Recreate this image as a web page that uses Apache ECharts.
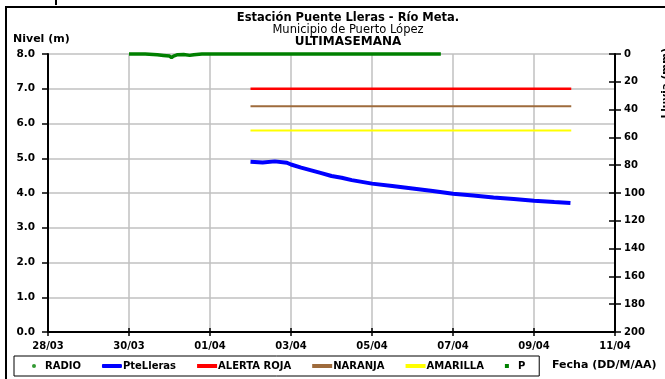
<!DOCTYPE html>
<html>
<head>
<meta charset="utf-8">
<script src="https://cdn.jsdelivr.net/npm/echarts@6/dist/echarts.min.js"></script>
<style>
  html, body { margin: 0; padding: 0; background: #fff; }
  #chart { width: 665px; height: 379px; }
</style>
</head>
<body>
<div id="chart"></div>
<script>
// x values are days counted from 28/03 at 00:00
var tickLabels = ['28/03', '30/03', '01/04', '03/04', '05/04', '07/04', '09/04', '11/04'];

// River level at Puente Lleras (m)
var levelDays = [5.0, 5.3, 5.6, 5.9, 6.0, 6.25, 6.5, 6.75, 7.0, 7.25, 7.5, 7.75, 8.0, 8.5, 9.0, 9.5, 10.0, 10.5, 11.0, 11.5, 12.0, 12.5, 12.9];
var levelValues = [4.90, 4.88, 4.91, 4.87, 4.82, 4.73, 4.65, 4.57, 4.49, 4.44, 4.37, 4.32, 4.27, 4.20, 4.13, 4.06, 3.98, 3.93, 3.87, 3.83, 3.78, 3.74, 3.71];

// Alert thresholds (m), drawn over the same period
var alertDays = [5.0, 12.92];
var alertRed = 7.0;
var alertOrange = 6.5;
var alertYellow = 5.8;

// Precipitation (mm), right axis
var rainDays = [2.0, 2.4, 2.7, 2.85, 3.0, 3.05, 3.1, 3.2, 3.35, 3.5, 3.6, 3.8, 4.2, 5.0, 6.0, 7.0, 8.0, 9.0, 9.7];
var rainValues = [0, 0, 0.5, 1, 1.5, 2.5, 1.5, 0.5, 0.3, 1, 0.5, 0, 0, 0, 0, 0, 0, 0, 0];

function pairs(xs, ys) {
  return xs.map(function (x, i) { return [x, ys[i]]; });
}
function flat(xs, v) {
  return xs.map(function (x) { return [x, v]; });
}

var font = '"DejaVu Sans", Verdana, sans-serif';
var plotBox = { left: 48, right: 50, top: 54, bottom: 47, containLabel: false };
var chart = echarts.init(document.getElementById('chart'));

function titleLine(text, top, size, weight) {
  return { text: text, left: 343, textAlign: 'center', top: top,
    textStyle: { fontSize: size, fontWeight: weight, color: '#000', fontFamily: font } };
}

chart.setOption({
  animation: false,
  backgroundColor: '#ffffff',
  textStyle: { fontFamily: font },
  title: [
    titleLine('Estación Puente Lleras - Río Meta.', 7, 11.5, 'bold'),
    titleLine('Municipio de Puerto López', 19, 11.5, 'normal'),
    titleLine('ULTIMASEMANA', 31, 12, 'bold')
  ],
  // second grid shares the plot box and only carries the inner half of the crossing ticks
  grid: [plotBox, plotBox],
  legend: {
    left: 14, top: 356,
    orient: 'horizontal',
    borderColor: '#000', borderWidth: 1,
    padding: [5, 14, 5, 18],
    itemGap: 21,
    itemWidth: 20, itemHeight: 4,
    textStyle: { fontSize: 10, fontWeight: 'bold', color: '#000', fontFamily: font, padding: [0, 0, 0, -4] },
    data: [
      { name: 'RADIO', icon: 'circle' },
      { name: 'PteLleras', icon: 'roundRect' },
      { name: 'ALERTA ROJA', icon: 'rect' },
      { name: 'NARANJA', icon: 'rect' },
      { name: 'AMARILLA', icon: 'rect' },
      { name: 'P', icon: 'path://M0,0h1v1h-1z' }
    ]
  },
  xAxis: [
    {
      gridIndex: 0, type: 'value', min: 0, max: 14, interval: 2, position: 'bottom',
      axisLine: { show: true, onZero: false, lineStyle: { color: '#000', width: 2 } },
      axisTick: { show: true, inside: false, length: 4, lineStyle: { color: '#000', width: 1.5 } },
      axisLabel: {
        margin: 9, fontSize: 10, fontWeight: 'bold', color: '#000', fontFamily: font,
        formatter: function (v) { return tickLabels[Math.round(v / 2)]; }
      },
      splitLine: { show: true, lineStyle: { color: '#c0c0c0', width: 1.5 } }
    },
    {
      gridIndex: 1, type: 'value', min: 0, max: 14, interval: 2, position: 'bottom',
      axisLine: { show: false, onZero: false },
      axisTick: { show: true, inside: true, length: 4, lineStyle: { color: '#000', width: 1.5 } },
      axisLabel: { show: false },
      splitLine: { show: false }
    }
  ],
  yAxis: [
    {
      gridIndex: 0, type: 'value', min: 0, max: 8, interval: 1, position: 'left',
      axisLine: { show: true, onZero: false, lineStyle: { color: '#000', width: 2 } },
      axisTick: { show: true, inside: false, length: 6, lineStyle: { color: '#000', width: 1.5 } },
      axisLabel: {
        margin: 13, fontSize: 10.5, fontWeight: 'bold', color: '#000', fontFamily: font,
        formatter: function (v) { return v.toFixed(1); }
      },
      splitLine: { show: true, lineStyle: { color: '#c0c0c0', width: 1.5 } }
    },
    {
      gridIndex: 0, type: 'value', min: 0, max: 200, interval: 20, position: 'right', inverse: true,
      axisLine: { show: true, onZero: false, lineStyle: { color: '#000', width: 2 } },
      axisTick: { show: true, inside: false, length: 6, lineStyle: { color: '#000', width: 1.5 } },
      axisLabel: { margin: 9, fontSize: 10, fontWeight: 'bold', color: '#000', fontFamily: font },
      splitLine: { show: false }
    },
    {
      gridIndex: 1, type: 'value', min: 0, max: 200, interval: 20, position: 'right', inverse: true,
      axisLine: { show: false, onZero: false },
      axisTick: { show: true, inside: true, length: 6, lineStyle: { color: '#000', width: 1.5 } },
      axisLabel: { show: false },
      splitLine: { show: false }
    }
  ],
  graphic: [
    { type: 'rect', shape: { x: 6, y: 7, width: 700, height: 400 },
      style: { fill: null, stroke: '#000', lineWidth: 2 }, silent: true, z: 100 },
    { type: 'rect', shape: { x: 55, y: 0, width: 2, height: 5 },
      style: { fill: '#000' }, silent: true },
    { type: 'text', x: 13, y: 34,
      style: { text: 'Nivel (m)', fontSize: 11, fontWeight: 'bold', fill: '#000', fontFamily: font } },
    { type: 'text', x: 552, y: 360,
      style: { text: 'Fecha (DD/M/AA)', fontSize: 11, fontWeight: 'bold', fill: '#000', fontFamily: font } },
    { type: 'text', x: 661, y: 48, rotation: Math.PI / 2,
      style: { text: 'Lluvia (mm)', fontSize: 10.5, fontWeight: 'bold', fill: '#000', fontFamily: font,
               align: 'right', verticalAlign: 'top' } }
  ],
  series: [
    {
      name: 'RADIO', type: 'scatter', xAxisIndex: 0, yAxisIndex: 0,
      symbolSize: 4, itemStyle: { color: '#008000' }, data: []
    },
    {
      name: 'ALERTA ROJA', type: 'line', xAxisIndex: 0, yAxisIndex: 0,
      showSymbol: false, symbol: 'none', z: 3,
      lineStyle: { color: '#ff0000', width: 2.5 }, itemStyle: { color: '#ff0000' },
      data: flat(alertDays, alertRed)
    },
    {
      name: 'NARANJA', type: 'line', xAxisIndex: 0, yAxisIndex: 0,
      showSymbol: false, symbol: 'none', z: 3,
      lineStyle: { color: '#9e6b3c', width: 2 }, itemStyle: { color: '#9e6b3c' },
      data: flat(alertDays, alertOrange)
    },
    {
      name: 'AMARILLA', type: 'line', xAxisIndex: 0, yAxisIndex: 0,
      showSymbol: false, symbol: 'none', z: 3,
      lineStyle: { color: '#ffff00', width: 2 }, itemStyle: { color: '#ffff00' },
      data: flat(alertDays, alertYellow)
    },
    {
      name: 'PteLleras', type: 'line', xAxisIndex: 0, yAxisIndex: 0,
      showSymbol: false, symbol: 'none', z: 4,
      lineStyle: { color: '#0000ff', width: 4 }, itemStyle: { color: '#0000ff' },
      data: pairs(levelDays, levelValues)
    },
    {
      name: 'P', type: 'line', xAxisIndex: 0, yAxisIndex: 1,
      showSymbol: false, symbol: 'none', z: 5, clip: false,
      lineStyle: { color: '#008000', width: 3.5 }, itemStyle: { color: '#008000' },
      data: pairs(rainDays, rainValues)
    }
  ]
});
</script>
</body>
</html>
